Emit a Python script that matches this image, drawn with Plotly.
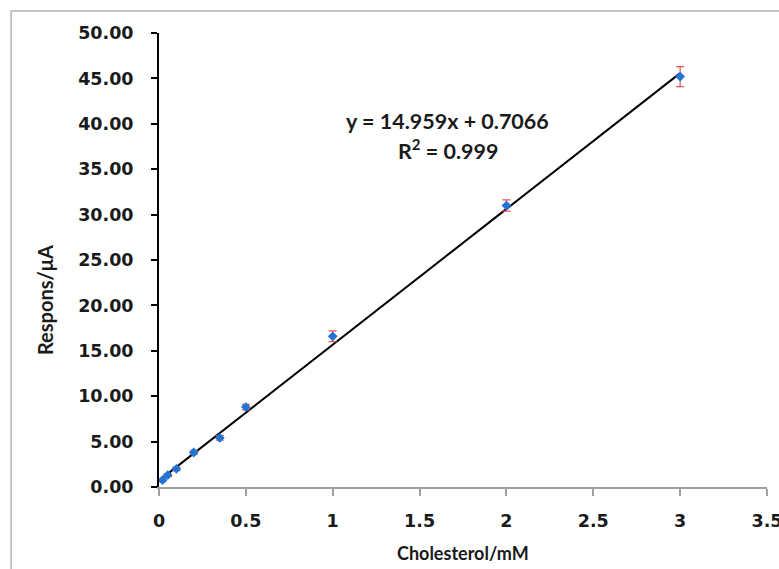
import plotly.graph_objects as go

# Data
conc = [0.02, 0.05, 0.1, 0.2, 0.35, 0.5, 1.0, 2.0, 3.0]
response = [0.75, 1.3, 2.0, 3.8, 5.4, 8.8, 16.6, 31.0, 45.2]
err = [0.15, 0.15, 0.2, 0.25, 0.25, 0.3, 0.6, 0.62, 1.1]
slope = 14.959
intercept = 0.7066
r2 = 0.999

W, H = 779, 569
L, R, T, B = 159, 11.5, 33, 82

fig = go.Figure()

trend_x = [min(conc), max(conc)]
trend_y = [slope * v + intercept for v in trend_x]
fig.add_trace(go.Scatter(x=trend_x, y=trend_y, mode="lines",
                         line=dict(color="black", width=2), showlegend=False,
                         hoverinfo="skip"))

fig.add_trace(go.Scatter(
    x=conc, y=response, mode="markers",
    marker=dict(symbol="diamond", size=7.5, color="#1f74d6"),
    error_y=dict(type="data", array=err, visible=True, color="#f05050",
                 thickness=1.2, width=4),
    showlegend=False))

pw = W - L - R
ph = H - T - B
tick_font = dict(family="DejaVu Sans", size=17.5, color="#1a1a1a", weight="bold")
eq_font = dict(family="Lato", size=21.5, color="#1a1a1a", weight="bold")
xt_font = dict(family="Lato", size=18, color="#1a1a1a", weight="bold")
yt_font = dict(family="Lato", size=20, color="#1a1a1a", weight="bold")

fig.update_layout(
    width=W, height=H,
    margin=dict(l=L, r=R, t=T, b=B, pad=0, autoexpand=False),
    paper_bgcolor="white", plot_bgcolor="white",
    xaxis=dict(range=[0, 3.5], dtick=0.5, tick0=0, showgrid=False, zeroline=False,
               showline=True, linecolor="#a0a0a0", linewidth=2,
               ticks="outside", ticklen=7, tickwidth=1.5, tickcolor="#a0a0a0",
               tickfont=tick_font, ticklabelstandoff=10,
               ticklabeloverflow="allow", automargin=False),
    yaxis=dict(range=[0, 50], dtick=5, tick0=0, tickformat=".2f", showgrid=False,
               zeroline=False, showline=True, linecolor="black", linewidth=2,
               ticks="outside", ticklen=6, tickwidth=1.5, tickcolor="black",
               tickfont=tick_font, ticklabelstandoff=14,
               ticklabeloverflow="allow", automargin=False),
    shapes=[dict(type="rect", xref="paper", yref="paper",
                 x0=(11 - L) / pw, x1=1.2, y0=-0.5, y1=(H - B - 11) / ph,
                 line=dict(color="#b4b4b4", width=1.5), fillcolor="rgba(0,0,0,0)",
                 layer="below")],
    annotations=[
        dict(xref="paper", yref="paper", x=(448 - L) / pw, y=(H - B - 121) / ph,
             text=f"y = {slope}x + {intercept}", showarrow=False,
             font=eq_font, xanchor="center", yanchor="middle"),
        dict(xref="paper", yref="paper", x=(448 - L) / pw, y=(H - B - 149) / ph,
             text=f"R<sup>2</sup> = {r2}", showarrow=False,
             font=eq_font, xanchor="center", yanchor="middle"),
        dict(xref="paper", yref="paper", x=(463 - L) / pw, y=(H - B - 553) / ph,
             text="Cholesterol/mM", showarrow=False,
             font=xt_font, xanchor="center", yanchor="middle"),
        dict(xref="paper", yref="paper", x=(45 - L) / pw, y=(H - B - 300) / ph,
             text="Respons/μA", showarrow=False, textangle=-90,
             font=yt_font, xanchor="center", yanchor="middle"),
    ],
)

fig.write_html("out.html")
